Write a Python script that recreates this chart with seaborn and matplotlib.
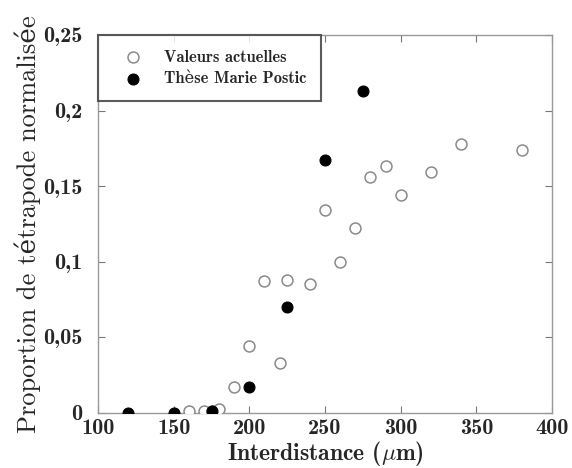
import pandas as pd
import seaborn as sns
import matplotlib.pyplot as plt

# Valeurs actuelles (open circles)
x_actuel = [160, 170, 175, 180, 190, 200, 210, 220, 225, 240, 250, 260, 270,
            280, 290, 300, 320, 340, 380]
y_actuel = [0.001, 0.001, 0.001, 0.002, 0.017, 0.044, 0.087, 0.033, 0.088,
            0.085, 0.134, 0.100, 0.122, 0.156, 0.163, 0.144, 0.159, 0.178,
            0.174]

# Thèse Marie Postic (filled circles)
x_these = [120, 150, 175, 200, 225, 250, 275]
y_these = [0.0, 0.0, 0.001, 0.017, 0.070, 0.167, 0.213]

x_ticks = [100, 150, 200, 250, 300, 350, 400]
y_ticks = [0, 0.05, 0.1, 0.15, 0.2, 0.25]
y_tick_labels = ['0', '0,05', '0,1', '0,15', '0,2', '0,25']

sns.set_style("ticks")
bold = ['cmb10', 'DejaVu Serif']
regular = ['cmr10', 'DejaVu Serif']
plt.rcParams['font.family'] = bold
plt.rcParams['mathtext.fontset'] = 'cm'

df_actuel = pd.DataFrame({'x': x_actuel, 'y': y_actuel})
df_these = pd.DataFrame({'x': x_these, 'y': y_these})

fig = plt.figure(figsize=(5.72, 4.68), dpi=100)
ax = fig.add_axes([98 / 572, 1 - 412.5 / 468, 454 / 572, 377.5 / 468])

sns.scatterplot(data=df_actuel, x='x', y='y', ax=ax, marker='o', s=62,
                facecolor='white', edgecolor='#8a8a8a', linewidth=1.1,
                label='Valeurs actuelles', zorder=3)
sns.scatterplot(data=df_these, x='x', y='y', ax=ax, marker='o', s=62,
                color='black', edgecolor='black', linewidth=0.8,
                label='Thèse Marie Postic', zorder=4)

ax.set_xlim(100, 400)
ax.set_ylim(0, 0.25)
ax.set_xticks(x_ticks)
ax.set_xticklabels([str(v) for v in x_ticks])
ax.set_yticks(y_ticks)
ax.set_yticklabels(y_tick_labels)
ax.tick_params(direction='in', top=True, right=True, length=5, width=0.8,
               color='#777777', labelsize=16)
ax.tick_params(axis='y', pad=11)
ax.tick_params(axis='x', pad=5)
for lab in ax.get_xticklabels() + ax.get_yticklabels():
    lab.set_family(bold)
for sp in ax.spines.values():
    sp.set_color('#999999')
    sp.set_linewidth(1.0)

ax.set_xlabel(r'Interdistance ($\mu$m)', fontsize=17, family=bold,
              labelpad=0.5)
ax.set_ylabel('Proportion de tétrapode normalisée', fontsize=19,
              family=regular, labelpad=2)

leg = ax.legend(loc='upper left', bbox_to_anchor=(0, 1), borderaxespad=0,
                frameon=True, fancybox=False,
                prop={'family': bold, 'size': 11.8},
                handletextpad=0.6, borderpad=0.9, labelspacing=0.4,
                handlelength=2.5)
leg.get_frame().set_edgecolor('#333333')
leg.get_frame().set_linewidth(1.5)

fig.savefig('out.png', dpi=100)
